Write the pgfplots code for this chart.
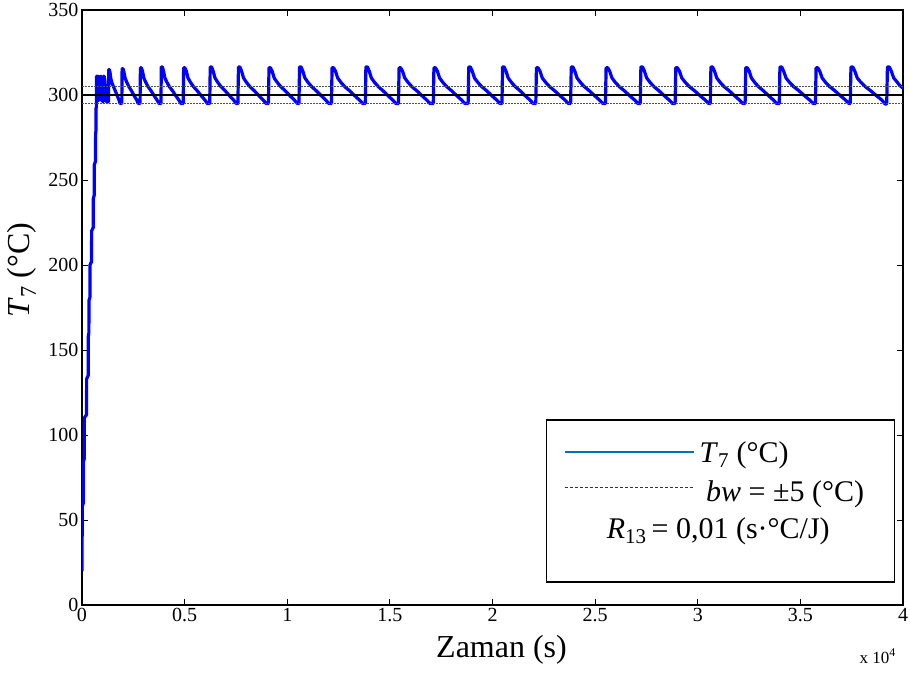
\documentclass[border=0pt]{standalone}
\usepackage{pgfplots}
\pgfplotsset{compat=1.18}
\usepackage{fontspec}
\setmainfont{Liberation Serif}
\definecolor{curveblue}{RGB}{0,0,255}
\definecolor{legblue}{RGB}{0,114,189}
\definecolor{bandgray}{RGB}{80,80,80}

\begin{document}
\begin{tikzpicture}
\begin{axis}[
  scale only axis, width=821pt, height=595pt,
  xmin=0, xmax=40000, ymin=0, ymax=350,
  xtick={0,5000,...,40000},
  xticklabels={0,0.5,1,1.5,2,2.5,3,3.5,4},
  scaled x ticks=false,
  ytick={0,50,...,350},
  tick align=inside, major tick length=6pt,
  axis line style={line width=1.3pt},
  every tick/.style={black,line width=0.8pt},
  ticklabel style={font=\fontsize{20}{23}\selectfont},
  /pgf/number format/assume math mode=true,
  xlabel={Zaman (s)},
  ylabel={\textit{T}\textsubscript{7} (°C)},
  label style={font=\fontsize{32}{38}\selectfont},
  xlabel style={at={(axis description cs:0.511,-0.0756)},anchor=center},
  ylabel style={at={(axis description cs:-0.073,0.563)},anchor=center},
  clip mode=individual,
]
% temperature response T7
\addplot[curveblue, line width=3.2pt, line join=round] coordinates {
(0,20)(5,40)(16,42)(18,58)(60,60)(65,84)(110,86)(113,110)(220,112)(226,133)
(300,135)(307,158)(335,160)(339,179)(385,181)(388,200)(465,202)(469,220)
(545,222)(550,239)(595,241)(598,259)(660,261)(663,277)(680,279)(685,292)
(700,293)(705,311)(720,311)(730,296)(745,296)(760,311)(775,311)(790,297)
(810,297)(830,311)(850,310)(870,297)(890,297)(905,311)(930,311)(960,309)
(990,299)(1010,296)(1030,296)(1050,311)(1080,311)(1120,308)(1160,300)
(1190,296)(1212,296)
(1293,296)(1304,315)(1333,315)(1367,313)(1406,309.5)(1463,307)(1531,305)(1621,302.5)(1718,299.5)(1802,297)(1859,295)
(1939,295)(1955,315.5)(1996,315.5)(2044,313.5)(2101,310)(2181,307.5)(2278,305)(2408,302.5)(2545,299.5)(2666,297)(2747,295)
(2828,295)(2846,316)(2892,316)(2948,314)(3012,310)(3104,307.5)(3215,305)(3362,302.5)(3519,299.5)(3657,297)(3749,295)
(3846,295)(3865,316.5)(3914,316.5)(3972,314)(4040,310)(4137,307.5)(4253,305)(4409,302.5)(4574,299.5)(4719,297)(4816,295)
(4929,295)(4953,316)(5012,316)(5082,314)(5165,310)(5283,307.5)(5425,305)(5613,302.5)(5814,299.5)(5991,297)(6109,295)
(6222,295)(6248,316.5)(6313,316.5)(6390,314)(6481,310)(6610,307.5)(6765,305)(6972,302.5)(7192,299.5)(7386,297)(7515,295)
(7596,295)(7623,316.5)(7692,316.5)(7775,314)(7871,310)(8008,307.5)(8173,305)(8393,302.5)(8627,299.5)(8833,297)(8970,295)
(9083,295)(9111,316)(9181,316)(9266,314)(9364,310)(9505,307.5)(9674,305)(9898,302.5)(10138,299.5)(10348,297)(10489,295)
(10570,295)(10599,316.5)(10672,316.5)(10759,314)(10861,310)(11006,307.5)(11181,305)(11413,302.5)(11661,299.5)(11879,297)(12024,295)
(12153,295)(12183,316)(12259,316)(12351,314)(12457,310)(12609,307.5)(12791,305)(13035,302.5)(13293,299.5)(13521,297)(13673,295)
(13802,295)(13832,316.5)(13906,316.5)(13995,314)(14099,310)(14248,307.5)(14427,305)(14664,302.5)(14917,299.5)(15140,297)(15289,295)
(15418,295)(15449,316)(15525,316)(15618,314)(15725,310)(15879,307.5)(16063,305)(16308,302.5)(16569,299.5)(16800,297)(16953,295)
(17115,295)(17146,316)(17222,316)(17315,314)(17422,310)(17576,307.5)(17760,305)(18005,302.5)(18266,299.5)(18497,297)(18650,295)
(18812,295)(18843,316.5)(18921,316.5)(19014,314)(19122,310)(19278,307.5)(19464,305)(19712,302.5)(19976,299.5)(20209,297)(20364,295)
(20461,295)(20491,316.5)(20567,316.5)(20658,314)(20765,310)(20917,307.5)(21099,305)(21342,302.5)(21600,299.5)(21828,297)(21980,295)
(22109,295)(22141,316)(22220,316)(22315,314)(22426,310)(22584,307.5)(22774,305)(23028,302.5)(23297,299.5)(23535,297)(23693,295)
(23806,295)(23837,316.5)(23916,316.5)(24010,314)(24120,310)(24276,307.5)(24465,305)(24715,302.5)(24982,299.5)(25217,297)(25374,295)
(25503,295)(25535,316)(25614,316)(25709,314)(25820,310)(25978,307.5)(26168,305)(26421,302.5)(26690,299.5)(26928,297)(27086,295)
(27199,295)(27230,316.5)(27309,316.5)(27403,314)(27513,310)(27669,307.5)(27858,305)(28108,302.5)(28375,299.5)(28610,297)(28767,295)
(28897,295)(28930,316)(29011,316)(29109,314)(29223,310)(29387,307.5)(29582,305)(29844,302.5)(30121,299.5)(30366,297)(30529,295)
(30610,295)(30642,316.5)(30721,316.5)(30816,314)(30927,310)(31085,307.5)(31275,305)(31529,302.5)(31798,299.5)(32036,297)(32194,295)
(32307,295)(32338,316)(32414,316)(32507,314)(32614,310)(32768,307.5)(32952,305)(33197,302.5)(33458,299.5)(33689,297)(33842,295)
(33971,295)(34004,316.5)(34086,316.5)(34185,314)(34301,310)(34466,307.5)(34664,305)(34927,302.5)(35208,299.5)(35455,297)(35620,295)
(35733,295)(35766,316)(35847,316)(35945,314)(36059,310)(36223,307.5)(36418,305)(36680,302.5)(36957,299.5)(37202,297)(37365,295)
(37430,295)(37464,316.5)(37550,316.5)(37653,314)(37772,310)(37944,307.5)(38149,305)(38423,302.5)(38714,299.5)(38971,297)(39142,294.5)
(39207,295)(39241,316.5)(39327,316.5)(39430,314)(39549,310)(39720,307.5)(39850,305.5)(40000,304)
};
% hysteresis band and set point
\addplot[bandgray, line width=0.9pt, dash pattern=on 2pt off 1pt] coordinates {(0,305)(40000,305)};
\addplot[bandgray, line width=0.9pt, dash pattern=on 2pt off 1pt] coordinates {(0,295)(40000,295)};
\addplot[black, line width=1.2pt] coordinates {(0,300)(40000,300)};

% legend box
\draw[line width=1.3pt, fill=white] (axis description cs:0.566,0.0387) rectangle (axis description cs:0.990,0.311);
\draw[legblue, line width=2.8pt] (axis description cs:0.588,0.257) -- (axis description cs:0.745,0.257);
\draw[black!80, line width=0.8pt, dash pattern=on 3pt off 2pt] (axis description cs:0.588,0.197) -- (axis description cs:0.745,0.197);
\node[anchor=base west, inner sep=0pt, font=\fontsize{30}{36}\selectfont] at (axis description cs:0.752,0.240) {\textit{T}\textsubscript{7} (°C)};
\node[anchor=base west, inner sep=0pt, font=\fontsize{30}{36}\selectfont] at (axis description cs:0.760,0.174) {\textit{bw} = ±5 (°C)};
\node[anchor=base, inner sep=0pt, font=\fontsize{30}{36}\selectfont] at (axis description cs:0.775,0.112) {\textit{R}\textsubscript{13}\,= 0,01 (s·°C/J)};
% scale factor of the time axis
\node[anchor=base west, inner sep=0pt, font=\fontsize{17}{20}\selectfont] at (axis description cs:0.947,-0.0975) {x 10\textsuperscript{4}};
\end{axis}
\pgfresetboundingbox
\path[use as bounding box] ([shift={(-82pt,-74pt)}]current axis.south west) rectangle ([shift={(7pt,10pt)}]current axis.north east);
\end{tikzpicture}
\end{document}
